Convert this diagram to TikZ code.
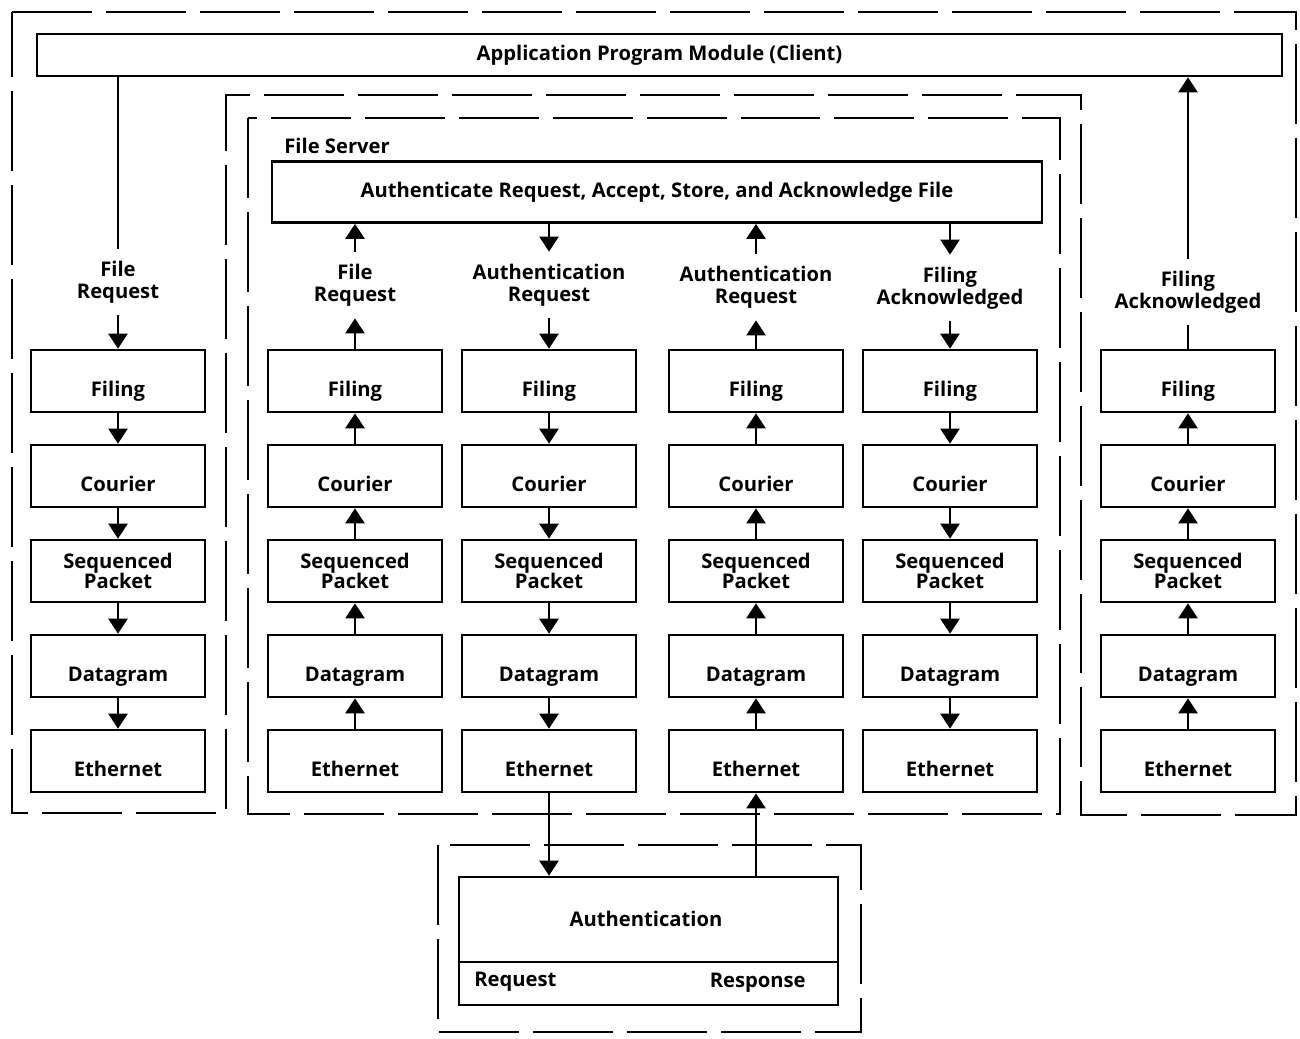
\documentclass[tikz,border=0pt]{standalone}
\usepackage{fontspec}
\setmainfont{Open Sans}
\usetikzlibrary{arrows.meta}
\begin{document}
\begin{tikzpicture}[x=0.02cm,y=-0.02cm,
  font=\fontsize{11.5}{12.5}\selectfont\bfseries,
  box/.style={draw,line width=1.5pt,minimum width=3.48cm,minimum height=1.24cm,inner sep=0pt,align=center},
  onebox/.style={box,text height=0.62cm,text depth=0.02cm},
  lbl/.style={align=center,inner sep=0pt,minimum height=1.32cm},
  ln/.style={line width=1.3pt},
  arr/.style={line width=1.3pt,-{Triangle[length=0.3cm,width=0.38cm]}},
  dashframe/.style={line width=1.5pt,dash pattern=on 1.6cm off 0.28cm},
]
\useasboundingbox (0,0) rectangle (1300,1038);

% dashed regions
\draw[dashframe] (12,12) -- (1296,12) -- (1296,815) -- (1081,815) -- (1081,95) -- (226,95) -- (226,813) -- (12,813) -- cycle;
\draw[dashframe] (248,118) rectangle (1060,814);
\draw[dashframe] (438,845) rectangle (861,1032);

% application box
\node[draw,line width=1.5pt,minimum width=24.9cm,minimum height=0.84cm,inner sep=0pt] (app) at (659.5,55) {Application Program Module (Client)};

% file server
\node[anchor=west,inner sep=0pt] (fslab) at (284,146) {File Server};
\node[draw,line width=1.5pt,minimum width=15.4cm,minimum height=1.22cm,inner sep=0pt] (srv) at (657,192) {Authenticate Request, Accept, Store, and Acknowledge File};

% stacks
\foreach \c/\x in {1/118,2/355,3/549,4/756,5/950,6/1188}{
  \node[onebox] (f\c) at (\x,381) {Filing};
  \node[onebox] (c\c) at (\x,476) {Courier};
  \node[box] (s\c) at (\x,571) {Sequenced\\[-1.1pt]Packet};
  \node[onebox] (d\c) at (\x,666) {Datagram};
  \node[onebox] (e\c) at (\x,761) {Ethernet};
}

% labels
\node[lbl] (l1) at (118,282) {File\\Request};
\node[lbl] (l2) at (355,285) {File\\Request};
\node[lbl] (l3) at (549,285) {Authentication\\Request};
\node[lbl] (l4) at (756,287) {Authentication\\Request};
\node[lbl] (l5) at (950,288) {Filing\\Acknowledged};
\node[lbl] (l6) at (1188,292) {Filing\\Acknowledged};

% column 1 (down)
\draw[ln] (app.south -| l1) -- (l1.north);
\draw[arr] (l1.south) -- (f1.north);
% column 2 (up)
\draw[arr] (l2.north) -- (srv.south -| l2);
\draw[arr] (f2.north) -- (l2.south);
% column 3 (down)
\draw[arr] (srv.south -| l3) -- (l3.north);
\draw[arr] (l3.south) -- (f3.north);
% column 4 (up)
\draw[arr] (l4.north) -- (srv.south -| l4);
\draw[arr] (f4.north) -- (l4.south);
% column 5 (down)
\draw[arr] (srv.south -| l5) -- (l5.north);
\draw[arr] (l5.south) -- (f5.north);
% column 6 (up)
\draw[ln] (f6.north) -- (l6.south);
\draw[arr] (l6.north) -- (app.south -| l6);

\foreach \c in {1,3,5}{
  \draw[arr] (f\c.south) -- (c\c.north);
  \draw[arr] (c\c.south) -- (s\c.north);
  \draw[arr] (s\c.south) -- (d\c.north);
  \draw[arr] (d\c.south) -- (e\c.north);
}
\foreach \c in {2,4,6}{
  \draw[arr] (e\c.north) -- (d\c.south);
  \draw[arr] (d\c.north) -- (s\c.south);
  \draw[arr] (s\c.north) -- (c\c.south);
  \draw[arr] (c\c.north) -- (f\c.south);
}

% authentication
\node[draw,line width=1.5pt,minimum width=7.58cm,minimum height=2.56cm,inner sep=0pt] (auth) at (648.5,941) {};
\coordinate (divl) at (459,962);
\coordinate (divr) at (838,962);
\draw[line width=1.5pt] (divl) -- (divr);
\node (authtxt) at (646,919) {Authentication};
\node[anchor=west,inner sep=0pt] (req) at (474,982) {Request};
\node[anchor=east,inner sep=0pt] (resp) at (806,983) {Response};
\draw[arr] (e3.south) -- (auth.north -| e3);
\draw[arr] (auth.north -| e4) -- (e4.south);
\end{tikzpicture}
\end{document}
